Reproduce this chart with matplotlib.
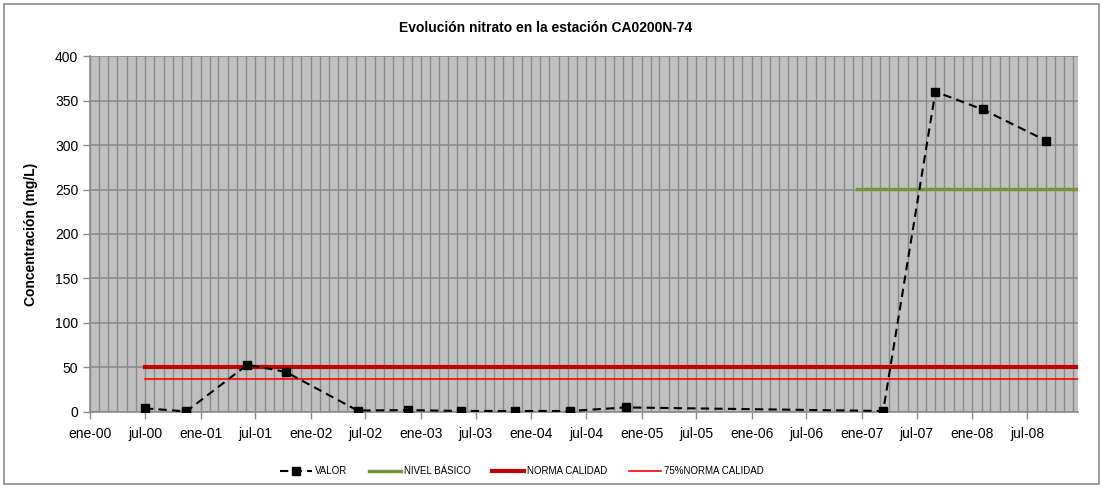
import matplotlib.pyplot as plt
import matplotlib.dates as mdates
from matplotlib.patches import Rectangle
from datetime import datetime

plt.rcParams['font.family'] = ['Liberation Sans', 'DejaVu Sans']

fechas = ['2000-07-01', '2000-11-15', '2001-06-05', '2001-10-10', '2002-06-05',
          '2002-11-20', '2003-05-15', '2003-11-10', '2004-05-08', '2004-11-10',
          '2007-03-12', '2007-09-01', '2008-02-05', '2008-09-01']
valor = [4, 0.5, 53, 45, 1.5, 2, 1, 1, 1, 5, 1, 360, 340, 305]

nivel_fechas = ['2006-12-15', '2008-12-15']
nivel_basico = [251, 251]
norma_fechas = ['2000-07-01', '2008-12-15']
norma_calidad = [50, 50]
norma_75 = [37.5, 37.5]

meses = {1: 'ene', 7: 'jul'}

fechas = [datetime.fromisoformat(d) for d in fechas]
nivel_fechas = [datetime.fromisoformat(d) for d in nivel_fechas]
norma_fechas = [datetime.fromisoformat(d) for d in norma_fechas]

fig = plt.figure(figsize=(11.03, 4.88), dpi=100)
fig.patches.append(Rectangle((0.004, 0.008), 0.992, 0.984, transform=fig.transFigure,
                             fill=False, edgecolor='#8c8c8c', linewidth=1.2))
ax = fig.add_axes([0.0816, 0.156, 0.8954, 0.729])
ax.set_facecolor('#c0c0c0')

ax.plot(fechas, valor, color='black', linestyle=(0, (4, 2.5)), linewidth=1.5,
        marker='s', markersize=6, label='VALOR', zorder=5)
ax.plot(nivel_fechas, nivel_basico, color='#77933c', linewidth=2.5, label='NIVEL BÁSICO', zorder=4)
ax.plot(norma_fechas, norma_calidad, color='#c00000', linewidth=3, label='NORMA CALIDAD', zorder=4)
ax.plot(norma_fechas, norma_75, color='#ff0000', linewidth=1.2, label='75%NORMA CALIDAD', zorder=4)

ax.set_xlim(datetime(2000, 1, 1), datetime(2008, 12, 15))
ax.set_ylim(0, 400)
ax.set_yticks(range(0, 401, 50))

ax.xaxis.set_major_locator(mdates.MonthLocator(bymonth=[1, 7]))
ax.xaxis.set_major_formatter(plt.FuncFormatter(
    lambda x, pos: '%s-%s' % (meses[mdates.num2date(x).month], mdates.num2date(x).strftime('%y'))))
ax.xaxis.set_minor_locator(mdates.MonthLocator())

ax.grid(True, which='minor', axis='x', color='#8a8a8a', linewidth=1)
ax.grid(True, which='major', axis='x', color='#8a8a8a', linewidth=1)
ax.grid(True, which='major', axis='y', color='#8a8a8a', linewidth=1.2)
ax.set_axisbelow(True)

for s in ['top', 'right']:
    ax.spines[s].set_visible(False)
ax.spines['left'].set_color('#8a8a8a')
ax.spines['bottom'].set_color('#8a8a8a')
ax.spines['left'].set_linewidth(1.2)
ax.spines['bottom'].set_linewidth(1.2)
ax.tick_params(axis='both', which='major', colors='#8a8a8a', labelcolor='black',
               labelsize=10, length=5, width=1)
ax.tick_params(axis='x', which='minor', length=0)
ax.tick_params(axis='x', which='major', pad=6)

ax.set_ylabel('Concentración (mg/L)', fontsize=10, fontweight='bold', labelpad=12)
fig.text(0.495, 0.943, 'Evolución nitrato en la estación CA0200N-74', ha='center', va='center',
         fontsize=10, fontweight='bold')

fig.legend(loc='center', bbox_to_anchor=(0.473, 0.035), ncol=4, frameon=False, fontsize=7,
           handlelength=3.3, columnspacing=2.2, handletextpad=0.3)

plt.savefig('out.png', dpi=100)
